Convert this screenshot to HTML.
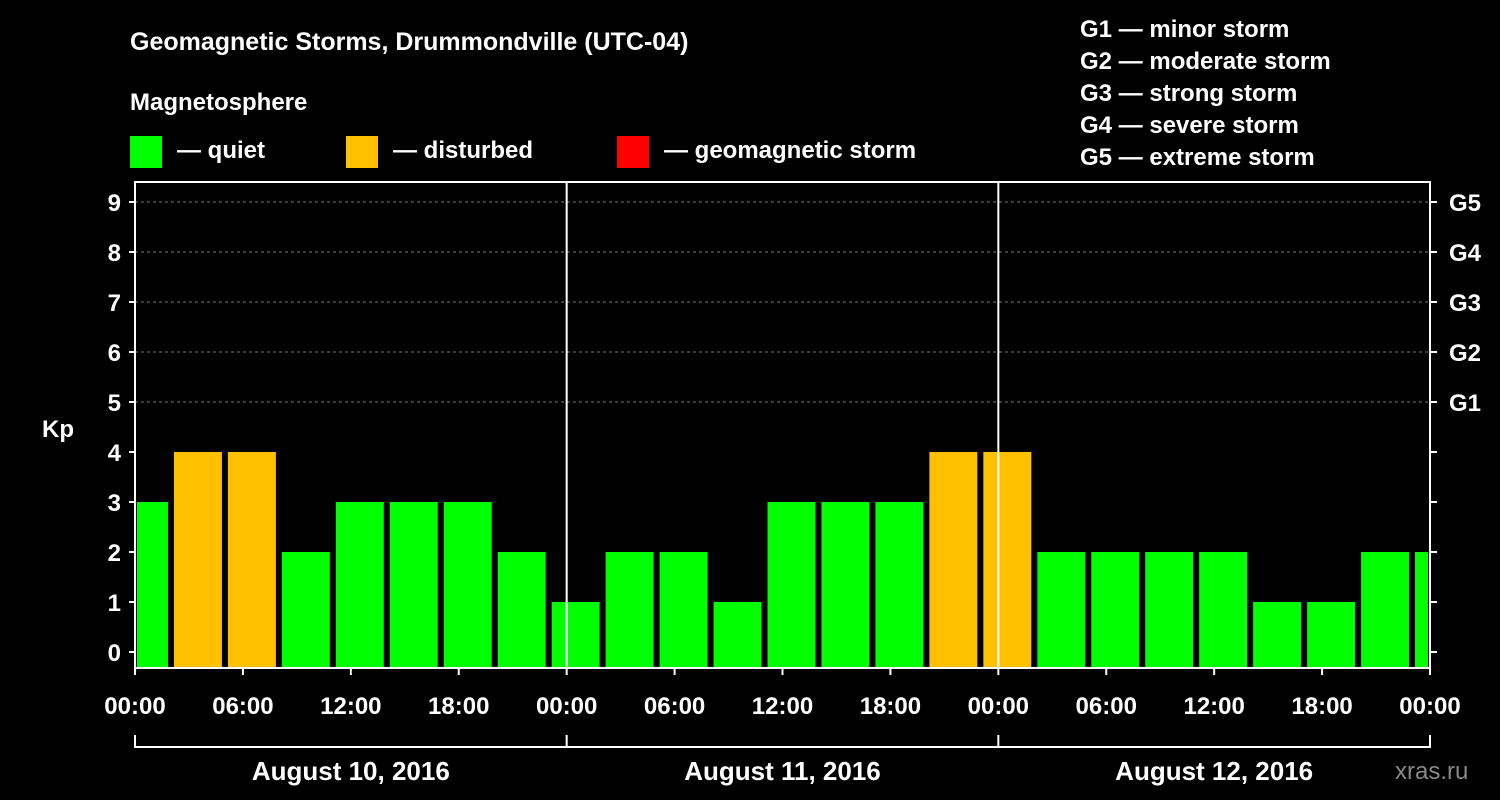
<!DOCTYPE html>
<html><head><meta charset="utf-8"><style>
html,body{margin:0;padding:0;background:#000;}
svg{display:block;font-family:"Liberation Sans",Arial,sans-serif;font-weight:bold;}
</style></head><body>
<svg id="chart" width="1500" height="800">
<text x="130" y="50" fill="#fff" font-size="25">Geomagnetic Storms, Drummondville (UTC-04)</text>
<text x="130" y="110" fill="#fff" font-size="24">Magnetosphere</text>
<rect x="130" y="136" width="32" height="32" fill="#00ff00"/>
<text x="177" y="158" fill="#fff" font-size="24">— quiet</text>
<rect x="346" y="136" width="32" height="32" fill="#ffc000"/>
<text x="393" y="158" fill="#fff" font-size="24">— disturbed</text>
<rect x="617" y="136" width="32" height="32" fill="#ff0000"/>
<text x="664" y="158" fill="#fff" font-size="24">— geomagnetic storm</text>
<g font-size="24" fill="#fff">
<text x="1080" y="37">G1 — minor storm</text>
<text x="1080" y="69">G2 — moderate storm</text>
<text x="1080" y="101">G3 — strong storm</text>
<text x="1080" y="133">G4 — severe storm</text>
<text x="1080" y="165">G5 — extreme storm</text>
</g>
<text x="42" y="437" fill="#fff" font-size="24">Kp</text>
<g id="grid"></g><g id="bars"></g><g id="axes"></g>
<text x="1395" y="779" fill="#888" font-size="24" font-weight="normal">xras.ru</text>
</svg>
<script>
const kpValues=[3,4,4,2,3,3,3,2,1,2,2,1,3,3,3,4,4,2,2,2,2,1,1,2,2];
const startHour=-1;
const yTicks=[0,1,2,3,4,5,6,7,8,9];
const gLabels=["G1","G2","G3","G4","G5"];
const xTickLabels=["00:00","06:00","12:00","18:00","00:00","06:00","12:00","18:00","00:00","06:00","12:00","18:00","00:00"];
const dayLabels=["August 10, 2016","August 11, 2016","August 12, 2016"];
const X0=135,X1=1430,T=182,B=668,totalH=72;
const x=h=>X0+(X1-X0)*h/totalH;
const y=v=>652-50*v;
const NS="http://www.w3.org/2000/svg";
function mk(p,tag,a){const e=document.createElementNS(NS,tag);for(const k in a)e.setAttribute(k,a[k]);p.appendChild(e);return e;}
const grid=document.getElementById('grid'),bars=document.getElementById('bars'),axes=document.getElementById('axes');
for(let v=5;v<=9;v++){const l=mk(grid,'line',{x1:X0,x2:X1,y1:y(v),y2:y(v),stroke:'#777','stroke-dasharray':'3,3'});

}
kpValues.forEach((v,i)=>{
 let h0=startHour+3*i,h1=h0+3;
 let a=Math.max(x(h0)+3,X0+2),b=Math.min(x(h1)-3,X1-2);
 const c=v>=5?'#ff0000':v>=4?'#ffc000':'#00ff00';
 const r=mk(bars,'rect',{x:a,y:y(v),width:b-a,height:B-y(v),fill:c});
 
 
});
[1,2].forEach(d=>{const l=mk(axes,'line',{x1:x(24*d),x2:x(24*d),y1:T,y2:B,stroke:'#fff','stroke-width':2});

});
const f=mk(axes,'rect',{x:X0,y:T,width:X1-X0,height:B-T,fill:'none',stroke:'#fff','stroke-width':2});


yTicks.forEach(v=>{
 mk(axes,'line',{x1:X0-6,x2:X0,y1:y(v),y2:y(v),stroke:'#fff','stroke-width':2});
 mk(axes,'line',{x1:X1,x2:X1+7,y1:y(v),y2:y(v),stroke:'#fff','stroke-width':2});
 const t=mk(axes,'text',{x:X0-14,y:y(v)+9,fill:'#fff','font-size':24,'text-anchor':'end'});t.textContent=v;
 
 
});
gLabels.forEach((g,i)=>{const t=mk(axes,'text',{x:1449,y:y(5+i)+9,fill:'#fff','font-size':24});t.textContent=g;
 
 });
xTickLabels.forEach((s,i)=>{const xx=x(6*i);
 mk(axes,'line',{x1:xx,x2:xx,y1:B,y2:B+7,stroke:'#fff','stroke-width':2});
 const t=mk(axes,'text',{x:xx,y:714,fill:'#fff','font-size':24,'text-anchor':'middle'});t.textContent=s;
 
 });
mk(axes,'line',{x1:X0,x2:X1,y1:747,y2:747,stroke:'#fff','stroke-width':2});
for(let d=0;d<=3;d++)mk(axes,'line',{x1:x(24*d),x2:x(24*d),y1:735,y2:748,stroke:'#fff','stroke-width':2});
dayLabels.forEach((s,i)=>{const t=mk(axes,'text',{x:x(24*i+12),y:780,fill:'#fff','font-size':26,'text-anchor':'middle'});t.textContent=s;
 
 });
</script>
</body></html>
